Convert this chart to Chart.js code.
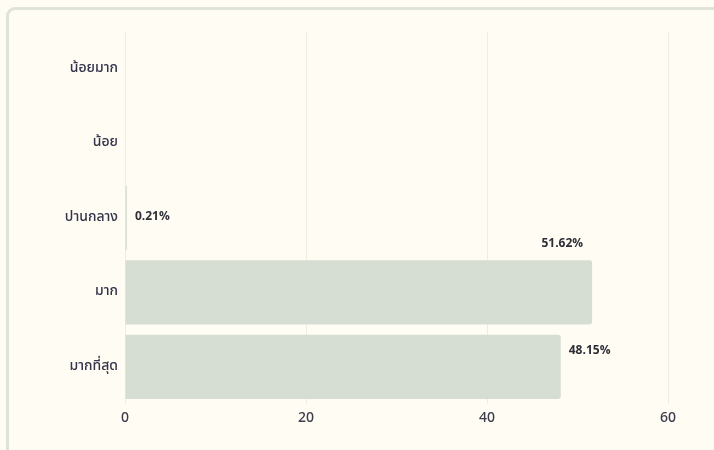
<!DOCTYPE html>
<html lang="th">

<head>
    <meta charset="UTF-8" />
    <meta name="viewport" content="width=device-width, initial-scale=1.0" />
    <script src="https://cdn.jsdelivr.net/npm/chart.js@4.4.1/dist/chart.umd.min.js"></script>
    <title>ระดับความพึงพอใจ</title>
    <style>
        html, body { margin: 0; padding: 0; background: #fffcf3; overflow: hidden; }
        .card {
            position: absolute; left: 6px; top: 7px; width: 708px; height: 443px;
            border-left: 3px solid #dfe3da; border-top: 3px solid #dfe3da;
            border-top-left-radius: 9px; background: #fffcf3;
        }
        .wrap { position: absolute; left: 0; top: 0; width: 714px; height: 450px; }
    </style>
</head>

<body>
    <div class="card"></div>
    <div class="wrap"><canvas id="chart" width="714" height="450"></canvas></div>
    <script>
        const levels = ['น้อยมาก', 'น้อย', 'ปานกลาง', 'มาก', 'มากที่สุด']
        const percents = [0, 0, 0.21, 51.62, 48.15]
        const xTicks = [0, 20, 40, 60]

        const thaiFont = '"Noto Sans Thai", "Noto Sans", "DejaVu Sans", sans-serif'

        // draw the % next to every non-zero bar
        const valueLabels = {
            id: 'valueLabels',
            afterDatasetsDraw(chart) {
                const ctx = chart.ctx
                const meta = chart.getDatasetMeta(0)
                ctx.save()
                ctx.font = 'bold 12px ' + thaiFont
                ctx.fillStyle = '#2e2e38'
                ctx.textBaseline = 'middle'
                meta.data.forEach((bar, i) => {
                    const v = percents[i]
                    if (!v) return
                    const txt = v.toFixed(2) + '%'
                    if (v > 50) {
                        ctx.textAlign = 'right'
                        ctx.fillText(txt, bar.x - 9, bar.y - bar.height / 2 - 16)
                    } else if (v > 1) {
                        ctx.textAlign = 'left'
                        ctx.fillText(txt, bar.x + 8, bar.y - 15)
                    } else {
                        ctx.textAlign = 'left'
                        ctx.fillText(txt, bar.x + 8, bar.y)
                    }
                })
                ctx.restore()
            }
        }

        new Chart(document.getElementById('chart'), {
            type: 'bar',
            data: {
                labels: levels,
                datasets: [{
                    data: percents,
                    backgroundColor: '#d6ddd3',
                    borderRadius: 3,
                    borderSkipped: 'start',
                    barPercentage: 0.9,
                    categoryPercentage: 0.96
                }]
            },
            options: {
                indexAxis: 'y',
                responsive: false,
                animation: false,
                devicePixelRatio: 1,
                layout: { padding: { top: 32, right: 46, bottom: 14, left: 0 } },
                plugins: { legend: { display: false }, tooltip: { enabled: false } },
                scales: {
                    x: {
                        min: 0, max: 60,
                        afterBuildTicks: s => { s.ticks = xTicks.map(v => ({ value: v })) },
                        afterFit: s => { s.height = 32 },
                        grid: { color: '#f1ece0', drawTicks: false },
                        border: { display: false },
                        ticks: { color: '#3c3c4c', padding: 7, font: { family: thaiFont, size: 14, weight: '500' } }
                    },
                    y: {
                        afterFit: s => { s.width = 125 },
                        grid: { display: false, drawTicks: false },
                        border: { display: false },
                        ticks: { color: '#33334a', padding: 7, font: { family: thaiFont, size: 14, weight: '500' } }
                    }
                }
            },
            plugins: [valueLabels]
        })
    </script>
</body>

</html>
